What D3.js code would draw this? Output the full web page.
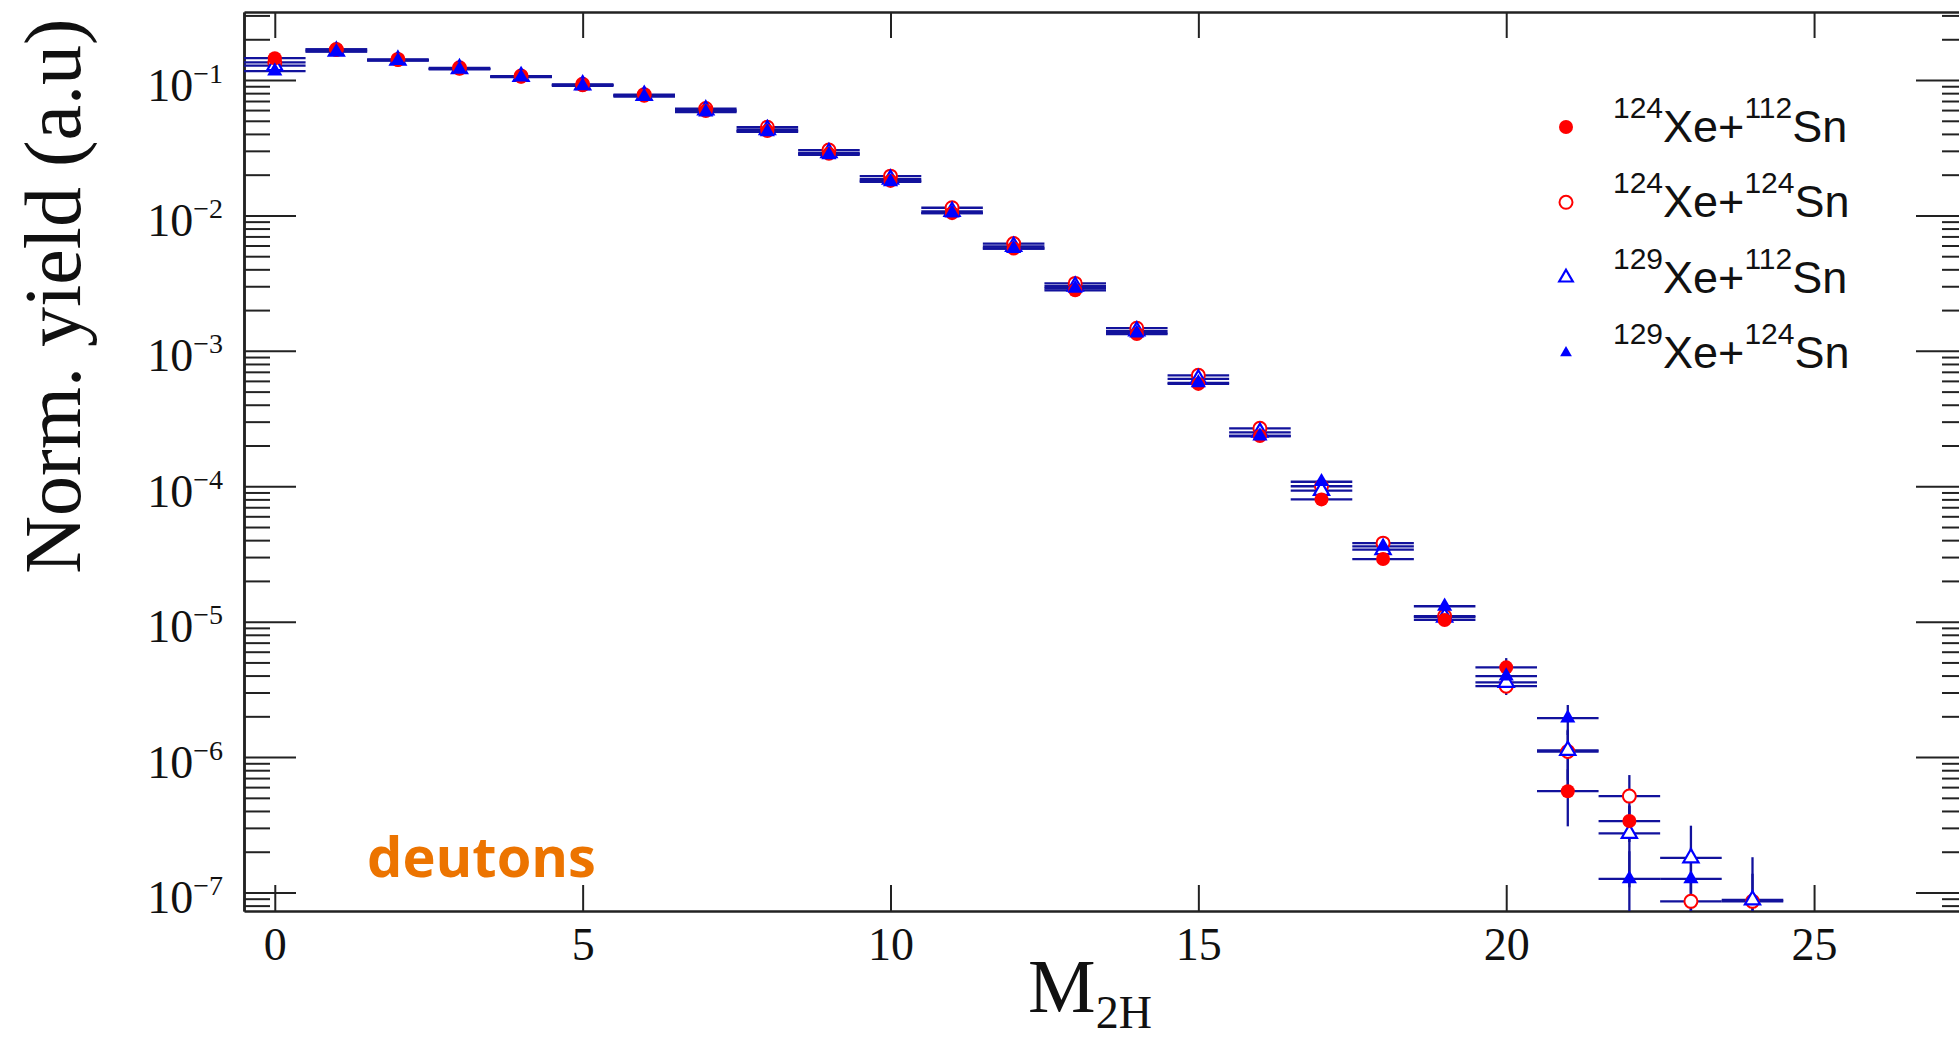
<!DOCTYPE html>
<html>
<head>
<meta charset="utf-8">
<script src="https://cdn.jsdelivr.net/npm/d3@7"></script>
<style>
  body { margin: 0; background: #fff; }
  svg { display: block; }
</style>
</head>
<body>
<script>
// multiplicity bins
const mult = [0, 1, 2, 3, 4, 5, 6, 7, 8, 9, 10, 11, 12, 13, 14, 15, 16, 17, 18, 19, 20, 21, 22, 23, 24];

// normalised yields, one array per system
const yieldA = [0.145, 0.168, 0.141, 0.121, 0.1058, 0.0914, 0.0766, 0.059, 0.042, 0.0285, 0.018, 0.0104, 0.0057, 0.0028, 0.00133, 0.00057, 0.000235, 8.0e-5, 2.9e-5, 1.03e-5, 4.6e-6, 5.6e-7, 3.37e-7];
const yieldB = [0.135, 0.168, 0.142, 0.123, 0.107, 0.093, 0.078, 0.0615, 0.0448, 0.0304, 0.0195, 0.0114, 0.0062, 0.00315, 0.00147, 0.00066, 0.000268, 1.0e-4, 3.8e-5, 1.1e-5, 3.34e-6, 1.1e-6, 5.15e-7, 8.6e-8, 8.6e-8];
const yieldC = [0.1276, 0.163, 0.14, 0.121, 0.106, 0.092, 0.077, 0.06, 0.043, 0.029, 0.0185, 0.0107, 0.0059, 0.003, 0.0014, 0.00062, 0.00025, 9.3e-5, 3.4e-5, 1.08e-5, 3.56e-6, 1.12e-6, 2.73e-7, 1.8e-7, 8.8e-8];
const yieldD = [0.1165, 0.162, 0.139, 0.12, 0.105, 0.0905, 0.0755, 0.058, 0.0415, 0.028, 0.0177, 0.0104, 0.0057, 0.0029, 0.00135, 0.00058, 0.000235, 1.08e-4, 3.6e-5, 1.3e-5, 3.96e-6, 1.94e-6, 1.26e-7, 1.26e-7];

// relative errors in percent
const errA = [1, 1, 1, 1, 1, 1, 1, 1, 1, 1, 1, 1, 1.5, 1.5, 2, 2, 3, 4, 5, 8, 17, 45, 30];
const errB = [1, 1, 1, 1, 1, 1, 1, 1, 1, 1, 1, 1, 1.5, 1.5, 2, 2, 3, 4, 5, 8, 14, 45, 43, 60, 60];
const errC = [1, 1, 1, 1, 1, 1, 1, 1, 1, 1, 1, 1, 1.5, 1.5, 2, 2, 3, 4, 5, 8, 11, 40, 60, 73, 107];
const errD = [1, 1, 1, 1, 1, 1, 1, 1, 1, 1, 1, 1, 1.5, 1.5, 2, 2, 3, 4, 5, 8, 13, 25, 60, 70];

// legend: projectile / target mass numbers
const labels = [["124", "112"], ["124", "124"], ["129", "112"], ["129", "124"]];

const xTicks = [0, 5, 10, 15, 20, 25];

const width = 1959, height = 1045;
const pLeft = 244, pRight = 1968, pTop = 12, pBottom = 911;

const x = d3.scaleLinear().domain([-0.5, 27.5]).range([pLeft, pRight]);
const y = d3.scaleLog().domain([7.3e-8, 0.318]).range([pBottom, pTop]);

const svg = d3.select("body").append("svg")
  .attr("width", width)
  .attr("height", height);

svg.append("defs").append("clipPath").attr("id", "plot")
  .append("rect")
  .attr("x", pLeft).attr("y", pTop)
  .attr("width", pRight - pLeft).attr("height", pBottom - pTop);

// y ticks: majors on decades, minors on 2..9
const allY = y.ticks();
const majorY = allY.filter(d => Math.abs(Math.log10(d) - Math.round(Math.log10(d))) < 1e-6);
const minorY = allY.filter(d => !majorY.includes(d));

const axisColor = "#222";

function styleAxis(g) {
  g.selectAll("path.domain").attr("stroke", axisColor).attr("stroke-width", 2.5);
  g.selectAll(".tick line").attr("stroke", axisColor).attr("stroke-width", 2);
}

// left axis
const yLeftMinor = svg.append("g").attr("transform", `translate(${pLeft},0)`)
  .call(d3.axisLeft(y).tickValues(minorY).tickSize(-26).tickSizeOuter(0).tickFormat(""));
styleAxis(yLeftMinor);

const yLeft = svg.append("g").attr("transform", `translate(${pLeft},0)`)
  .call(d3.axisLeft(y).tickValues(majorY).tickSize(-52).tickSizeOuter(0).tickPadding(21)
    .tickFormat(() => "10"));
styleAxis(yLeft);
yLeft.selectAll(".tick text")
  .attr("font-family", "'Liberation Serif', 'Times New Roman', serif")
  .attr("font-size", 46)
  .attr("fill", "#111")
  .attr("dy", 20)
  .append("tspan")
  .attr("font-size", 28)
  .attr("dy", -18)
  .text(d => "\u2212" + Math.round(-Math.log10(d)));

// right axis (ticks inward, no labels)
const yRightMinor = svg.append("g").attr("transform", `translate(${pRight},0)`)
  .call(d3.axisRight(y).tickValues(minorY).tickSize(-26).tickSizeOuter(0).tickFormat(""));
styleAxis(yRightMinor);
const yRight = svg.append("g").attr("transform", `translate(${pRight},0)`)
  .call(d3.axisRight(y).tickValues(majorY).tickSize(-52).tickSizeOuter(0).tickFormat(""));
styleAxis(yRight);

// bottom and top axes
const xBottom = svg.append("g").attr("transform", `translate(0,${pBottom})`)
  .call(d3.axisBottom(x).tickValues(xTicks).tickSize(-26).tickSizeOuter(0).tickFormat(d3.format("d")));
styleAxis(xBottom);
xBottom.selectAll(".tick text")
  .attr("font-family", "'Liberation Serif', 'Times New Roman', serif")
  .attr("font-size", 46)
  .attr("fill", "#111")
  .attr("y", 49)
  .attr("dy", "0");

const xTop = svg.append("g").attr("transform", `translate(0,${pTop})`)
  .call(d3.axisTop(x).tickValues(xTicks).tickSize(-26).tickSizeOuter(0).tickFormat(""));
styleAxis(xTop);

// axis titles
svg.append("text")
  .attr("transform", "translate(80,296) rotate(-90)")
  .attr("text-anchor", "middle")
  .attr("font-family", "'Liberation Serif', 'Times New Roman', serif")
  .attr("font-size", 80)
  .attr("fill", "#111")
  .text("Norm. yield (a.u)");

const xTitle = svg.append("text")
  .attr("x", 1090).attr("y", 1012)
  .attr("text-anchor", "middle")
  .attr("font-family", "'Liberation Serif', 'Times New Roman', serif")
  .attr("font-size", 76)
  .attr("fill", "#111");
xTitle.append("tspan").text("M");
xTitle.append("tspan").attr("font-size", 46).attr("dy", 16).text("2H");

// series definitions
const errColor = "#12129c";
const series = [
  { name: "A", vals: yieldA, err: errA, color: "#ff0000", shape: "circle", filled: true },
  { name: "B", vals: yieldB, err: errB, color: "#ff0000", shape: "circle", filled: false },
  { name: "C", vals: yieldC, err: errC, color: "#0000ff", shape: "triangle", filled: false },
  { name: "D", vals: yieldD, err: errD, color: "#0000ff", shape: "triangle", filled: true }
];

series.forEach(s => {
  s.points = s.vals.map((v, i) => ({ m: mult[i], v: v, e: v * s.err[i] / 100 }));
});

const plot = svg.append("g").attr("clip-path", "url(#plot)");

// error bars first
series.forEach(s => {
  const g = plot.append("g").attr("stroke", errColor).attr("stroke-width", 2.3);
  g.selectAll("line.h").data(s.points).enter().append("line")
    .attr("x1", d => x(d.m - 0.5))
    .attr("x2", d => x(d.m + 0.5))
    .attr("y1", d => y(d.v))
    .attr("y2", d => y(d.v));
  g.selectAll("line.v").data(s.points).enter().append("line")
    .attr("x1", d => x(d.m))
    .attr("x2", d => x(d.m))
    .attr("y1", d => y(d.v + d.e))
    .attr("y2", d => (d.v - d.e) > 0 ? y(d.v - d.e) : pBottom + 5);
});

const tri = d3.symbol().type(d3.symbolTriangle);

function drawMarker(sel, s, big, openSize) {
  if (s.shape === "circle") {
    sel.append("circle")
      .attr("r", s.filled ? 7 : 6.5)
      .attr("fill", s.filled ? s.color : "#fff")
      .attr("stroke", s.color)
      .attr("stroke-width", s.filled ? 0 : 2);
  } else {
    sel.append("path")
      .attr("d", tri.size(s.filled ? big : openSize)())
      .attr("fill", s.filled ? s.color : "#fff")
      .attr("stroke", s.color)
      .attr("stroke-width", s.filled ? 0 : 2.2)
      .attr("stroke-linejoin", "miter");
  }
}

// draw order: open circle, open triangle, filled circle, filled triangle
[series[1], series[2], series[0], series[3]].forEach(s => {
  const g = plot.append("g");
  g.selectAll("g").data(s.points).enter().append("g")
    .attr("transform", d => `translate(${x(d.m)},${y(d.v)})`)
    .each(function () { drawMarker(d3.select(this), s, 100, 100); });
});

// legend
const legend = svg.append("g");
labels.forEach((lab, i) => {
  const yb = 142 + i * 75.3;
  const mk = legend.append("g").attr("transform", `translate(1566,${yb - 15})`);
  drawMarker(mk, series[i], 60, 80);
  const t = legend.append("text")
    .attr("x", 1613).attr("y", yb)
    .attr("font-family", "'Liberation Sans', Arial, sans-serif")
    .attr("font-size", 45)
    .attr("fill", "#111");
  t.append("tspan").attr("font-size", 30).attr("dy", -24).text(lab[0]);
  t.append("tspan").attr("dy", 24).text("Xe+");
  t.append("tspan").attr("font-size", 30).attr("dy", -24).text(lab[1]);
  t.append("tspan").attr("dy", 24).text("Sn");
});

// particle label
svg.append("text")
  .attr("x", 367).attr("y", 877)
  .attr("font-family", "'Open Sans', 'Noto Sans', sans-serif")
  .attr("font-weight", "bold")
  .attr("font-size", 56)
  .attr("fill", "#ec7400")
  .text("deutons");
</script>
</body>
</html>
